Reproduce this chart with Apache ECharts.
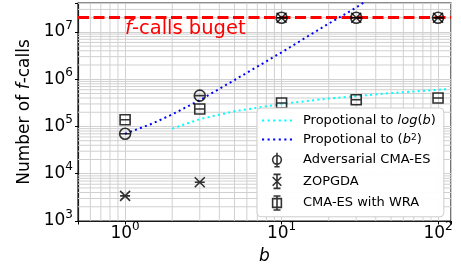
<!DOCTYPE html>
<html>
<head>
<meta charset="utf-8">
<script src="https://cdn.jsdelivr.net/npm/echarts@6/dist/echarts.min.js"></script>
<style>
html,body{margin:0;padding:0;background:#fff;}
#c{width:461px;height:267px;}
</style>
</head>
<body>
<div id="c"></div>
<script>
// ---- data ----
const bValues   = [1, 3, 10, 30, 100];
const advCMAES  = [7.0e4, 4.5e5, 2.0e7, 2.0e7, 2.0e7];
const zopgda    = [3.4e3, 6.6e3, 2.0e7, 2.0e7, 2.0e7];
const cmaesWRA  = [1.39e5, 2.34e5, 3.13e5, 3.68e5, 4.0e5];
const budget    = 2.0e7;
const logRefB   = [2, 3, 5, 10, 20, 50, 100, 115];
const logRefY   = [9.0e4, 1.43e5, 2.1e5, 3.0e5, 3.9e5, 5.1e5, 6.0e5, 6.2e5];
const sqRefB    = [1, 1.5, 2, 3, 5, 7, 10, 15, 20, 25, 30, 35];
const sqRefY    = [7.0e4, 1.16e5, 1.8e5, 3.6e5, 9.6e5, 1.85e6, 3.7e6, 8.4e6, 1.5e7, 2.3e7, 3.3e7, 4.6e7];
const legendNames = ['Propotional to log(b)', 'Propotional to (b^2)', 'Adversarial CMA-ES', 'ZOPGDA', 'CMA-ES with WRA'];
const xRange = [0.5, 121];
const yRange = [1e3, 4.1e7];

const FONT = 'DejaVu Sans';
const pair = (xs, ys) => xs.map((x, i) => [x, ys[i]]);

// minor grid positions (2..9 x 10^k) inside the axis ranges
function minorVals(lo, hi) {
  const out = [];
  for (let d = -2; d <= 9; d++) {
    for (let k = 2; k <= 9; k++) {
      const v = k * Math.pow(10, d);
      if (v > lo * 1.0001 && v < hi * 0.9999) out.push(v);
    }
  }
  return out;
}
const xMinor = minorVals(xRange[0], xRange[1]);
const yMinor = minorVals(yRange[0], yRange[1]);

function powLabel(v) {
  const e = Math.log10(v);
  const r = Math.round(e);
  if (Math.abs(e - r) > 1e-6) return '';
  return '{b|10}{s|' + r + '}';
}
const powRich = {
  b: {fontFamily: FONT, fontSize: 17, color: '#000', lineHeight: 25},
  s: {fontFamily: FONT, fontSize: 12, color: '#000', lineHeight: 12, verticalAlign: 'top'}
};

const GRIDC = '#d0d0d0';
const markerStyle = {color: 'rgba(0,0,0,0)', borderColor: '#000', borderWidth: 1.6};
const symCircle = 'path://M0,5A5,5,0,1,1,10,5A5,5,0,1,1,0,5ZM0,5L10,5';
const symX      = 'path://M0,0L10,10M10,0L0,10M0,5L10,5';
const symSquare = 'path://M0,0L10,0L10,10L0,10ZM0,5L10,5';
const legCircle = 'path://M5,0L5,16M2,16L8,16M0,8A5,5,0,1,1,10,8A5,5,0,1,1,0,8Z';
const legX      = 'path://M5,0L5,16M1,0L9,0M1,16L9,16M0,3L10,13M10,3L0,13';
const legSquare = 'path://M5,0L5,16M1,0L9,0M1,16L9,16M0,3L10,3L10,13L0,13Z';
let dots = 'path://';
for (let i = 0; i < 6; i++) { const x = (i * 5.3).toFixed(2); dots += 'M' + x + ',0h2v2h-2z'; }

const gridSeries = [];
xMinor.forEach(v => gridSeries.push({
  type: 'line', data: [[v, yRange[0]], [v, yRange[1]]], symbol: 'none', silent: true, z: 1,
  lineStyle: {color: GRIDC, width: 1}, emphasis: {disabled: true}
}));
yMinor.forEach(v => gridSeries.push({
  type: 'line', data: [[xRange[0], v], [xRange[1], v]], symbol: 'none', silent: true, z: 1,
  lineStyle: {color: GRIDC, width: 1}, emphasis: {disabled: true}
}));

const chart = echarts.init(document.getElementById('c'), null, {renderer: 'canvas'});
chart.setOption({
  animation: false,
  backgroundColor: '#fff',
  textStyle: {fontFamily: FONT},
  grid: {left: 78, right: 10, top: 3, bottom: 46, show: true, borderColor: '#1a1a1a', borderWidth: 1.2,
         containLabel: false, outerBoundsMode: 'none'},
  xAxis: {
    type: 'log', logBase: 10, min: xRange[0], max: xRange[1],
    name: 'b', nameLocation: 'middle', nameGap: 27,
    nameTextStyle: {fontFamily: FONT, fontSize: 17, fontStyle: 'italic', color: '#000'},
    axisLine: {show: true, lineStyle: {color: '#1a1a1a', width: 1.2}},
    axisTick: {show: true, length: 3.5, inside: false, lineStyle: {color: '#000'}},
    axisLabel: {formatter: powLabel, rich: powRich, margin: 0, showMinLabel: true, showMaxLabel: true},
    splitLine: {show: true, lineStyle: {color: GRIDC, width: 1}}
  },
  yAxis: {
    type: 'log', logBase: 10, min: yRange[0], max: yRange[1],
    name: 'Number of {i|f}-calls', nameLocation: 'middle', nameGap: 44,
    nameTextStyle: {fontFamily: FONT, fontSize: 17, color: '#000',
      rich: {i: {fontFamily: FONT, fontSize: 17, fontStyle: 'italic', color: '#000'}}},
    axisLine: {show: true, lineStyle: {color: '#1a1a1a', width: 1.2}},
    axisTick: {show: true, length: 3, inside: false, lineStyle: {color: '#000'}},
    axisLabel: {formatter: powLabel, rich: powRich, margin: 5},
    splitLine: {show: true, lineStyle: {color: GRIDC, width: 1}}
  },
  legend: {
    show: true, orient: 'vertical', left: 257, top: 108, z: 10,
    padding: [6, 8, 6, 5], itemGap: 6, itemWidth: 30, itemHeight: 14,
    backgroundColor: 'rgba(255,255,255,0.96)', borderColor: '#cccccc', borderWidth: 1, borderRadius: 4,
    textStyle: {fontFamily: FONT, fontSize: 13, color: '#000', padding: [0, 0, 0, 6],
      rich: {i: {fontFamily: FONT, fontSize: 13, fontStyle: 'italic', color: '#000'},
             t: {fontFamily: FONT, fontSize: 13, color: '#000'},
             s: {fontFamily: FONT, fontSize: 9, color: '#000', verticalAlign: 'top', lineHeight: 9}}},
    formatter: function (name) {
      if (name === legendNames[0]) return '{t|Propotional to }{i|log}{t|(}{i|b}{t|)}';
      if (name === legendNames[1]) return '{t|Propotional to (}{i|b}{s|2}{t|)}';
      return name;
    },
    data: [
      {name: legendNames[0], icon: dots, itemStyle: {color: '#00ffff', borderWidth: 0}},
      {name: legendNames[1], icon: dots, itemStyle: {color: '#0000ff', borderWidth: 0}},
      {name: legendNames[2], icon: legCircle, itemStyle: markerStyle},
      {name: legendNames[3], icon: legX, itemStyle: markerStyle},
      {name: legendNames[4], icon: legSquare, itemStyle: markerStyle}
    ]
  },
  series: gridSeries.concat([
    {
      name: '_budget', type: 'line', data: [], silent: true, z: 4,
      markLine: {
        silent: true, symbol: ['none', 'none'], animation: false, z: 4,
        label: {show: false},
        lineStyle: {color: '#ff0000', type: [11, 4.5], width: 3},
        emphasis: {disabled: true},
        data: [{yAxis: budget}]
      },
      markPoint: {
        silent: true, symbol: 'circle', symbolSize: 0, animation: false,
        label: {show: true, position: 'right', distance: 0, formatter: '{i|f}{t|-calls buget}',
          rich: {i: {fontFamily: FONT, fontSize: 19.5, fontStyle: 'italic', color: '#ff0000'},
                 t: {fontFamily: FONT, fontSize: 19.5, color: '#ff0000'}}},
        data: [{coord: [1, 1.17e7]}]
      }
    },
    {
      name: legendNames[0], type: 'line', data: pair(logRefB, logRefY), z: 3,
      symbol: 'none', showSymbol: false, clip: true,
      itemStyle: {color: '#00ffff'},
      lineStyle: {color: '#00ffff', width: 2, type: [2, 3.3]}
    },
    {
      name: legendNames[1], type: 'line', data: pair(sqRefB, sqRefY), z: 3,
      symbol: 'none', showSymbol: false, clip: true,
      itemStyle: {color: '#0000ff'},
      lineStyle: {color: '#0000ff', width: 2, type: [2, 3.3]}
    },
    {
      name: legendNames[2], type: 'scatter', data: pair(bValues, advCMAES), z: 6,
      symbol: symCircle, symbolSize: 11, itemStyle: markerStyle
    },
    {
      name: legendNames[3], type: 'scatter', data: pair(bValues, zopgda), z: 6,
      symbol: symX, symbolSize: 10, itemStyle: markerStyle
    },
    {
      name: legendNames[4], type: 'scatter', data: pair(bValues, cmaesWRA), z: 6,
      symbol: symSquare, symbolSize: 10, itemStyle: markerStyle
    }
  ])
});
</script>
</body>
</html>
